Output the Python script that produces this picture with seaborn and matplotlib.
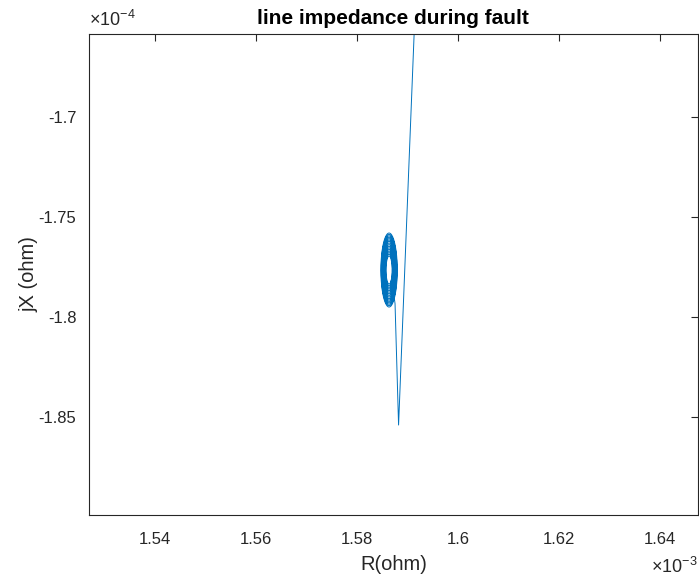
import numpy as np
import pandas as pd
import matplotlib
matplotlib.use("Agg")
import matplotlib.pyplot as plt
import seaborn as sns

# Impedance trajectory, R in units of 1e-3 ohm, X in units of 1e-4 ohm
# Approach: pre-fault point far above, drop to the fault dip, then swing up into the spiral
approach_r = [1.5947, 1.5882, 1.5875]
approach_x = [-1.4416, -1.8542, -1.7935]

# Spiral settling around the fault impedance: centre and per-turn semi-axes
spiral_center_r = 1.58632
spiral_center_x = -1.7767
turn_half_r = [0.00162, 0.00156, 0.00150, 0.00144, 0.00137, 0.00130, 0.00123,
               0.00116, 0.00109, 0.00102, 0.00095, 0.00088, 0.00081, 0.00074,
               0.00067, 0.00061]
turn_half_x = [0.0185, 0.0178, 0.0171, 0.0164, 0.0157, 0.0150, 0.0143,
               0.0135, 0.0127, 0.0119, 0.0111, 0.0103, 0.0095, 0.0087,
               0.0079, 0.0070]

x_ticks = [1.54, 1.56, 1.58, 1.60, 1.62, 1.64]
x_tick_labels = ["1.54", "1.56", "1.58", "1.6", "1.62", "1.64"]
y_ticks = [-1.85, -1.80, -1.75, -1.70]
y_tick_labels = ["-1.85", "-1.8", "-1.75", "-1.7"]

# Build the path: approach segment followed by the spiral turns
start = np.deg2rad(-50)
rs, xs = list(approach_r), list(approach_x)
for a, b in zip(turn_half_r, turn_half_x):
    th = start + np.linspace(0, 2 * np.pi, 90)
    rs.extend(spiral_center_r + a * np.cos(th))
    xs.extend(spiral_center_x + b * np.sin(th))
df = pd.DataFrame({"R": rs, "X": xs, "order": np.arange(len(rs))})

sns.set_style("white")
plt.rcParams["font.family"] = ["Liberation Sans", "DejaVu Sans"]
plt.rcParams["mathtext.fontset"] = "custom"
plt.rcParams["mathtext.rm"] = "Liberation Sans"
plt.rcParams["mathtext.it"] = "Liberation Sans"

fig = plt.figure(figsize=(6.99, 5.82), dpi=100)
ax = fig.add_axes([0.127, 0.1151, 0.8716, 0.8271])

sns.lineplot(data=df, x="R", y="X", sort=False, estimator=None,
             color="#0072BD", linewidth=0.7, ax=ax)

ax.set_xlim(1.52685, 1.6475)
ax.set_ylim(-1.8992, -1.6585)
ax.set_xticks(x_ticks, x_tick_labels)
ax.set_yticks(y_ticks, y_tick_labels)
ax.tick_params(direction="in", length=4.7, width=0.8, color="#262626",
               labelsize=12, labelcolor="#262626", top=True, right=True,
               pad=9)
ax.tick_params(axis="x", pad=12)
for s in ax.spines.values():
    s.set_visible(True)
    s.set_color("#262626")
    s.set_linewidth(0.8)

ax.set_xlabel("R(ohm)", fontsize=14.5, color="#262626", labelpad=6)
ax.set_ylabel("jX (ohm)", fontsize=14.5, color="#262626", labelpad=0)
ax.set_title("line impedance during fault", fontsize=15, fontweight="bold",
             color="black", pad=7)

ax.text(0.0, 1.008, r"$\times10^{-4}$", transform=ax.transAxes,
        fontsize=13, color="#262626", ha="left", va="bottom")
ax.text(1.0, -0.088, r"$\times10^{-3}$", transform=ax.transAxes,
        fontsize=13, color="#262626", ha="right", va="top")

fig.savefig("out.png", dpi=100)
